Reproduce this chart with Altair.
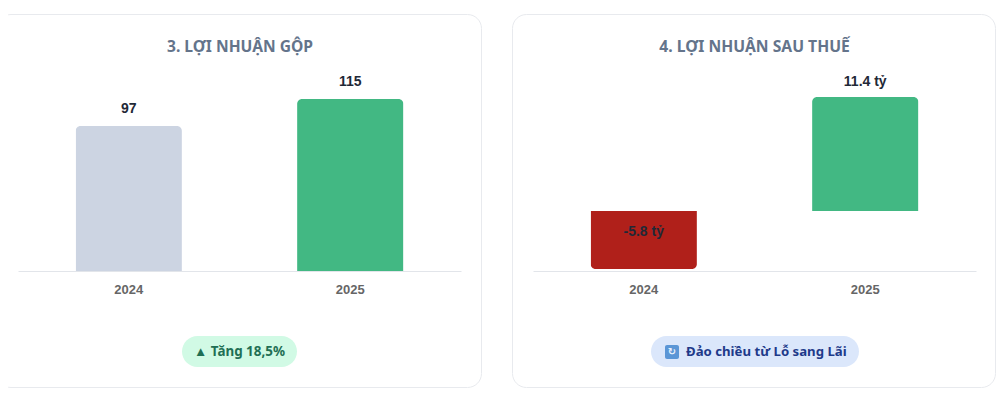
import altair as alt
import pandas as pd

years = ["2024", "2025"]
gross_values = [97, 115]
gross_labels = ["97", "115"]
net_values = [-5.8, 11.4]
net_labels = ["-5.8 tỷ", "11.4 tỷ"]
gross_colors = ["#ccd4e2", "#42b883"]
net_colors = ["#b0201a", "#42b883"]
titles = ["3. LỢI NHUẬN GỘP", "4. LỢI NHUẬN SAU THUẾ"]
badges = ["▲ Tăng 18,5%", "Đảo chiều từ Lỗ sang Lãi"]

SANS = "Noto Sans"
ARIAL = "Liberation Sans"
one = pd.DataFrame({"k": [0]})


def card(x1, x2):
    return alt.Chart(one).mark_rect(
        fill="white", stroke="#e8eaee", strokeWidth=1, cornerRadius=14, clip=True
    ).encode(x=alt.value(x1), x2=alt.value(x2), y=alt.value(6.5), y2=alt.value(379.5))


def note(text, x, y, size, color, font=SANS, align="center", weight="bold"):
    return alt.Chart(pd.DataFrame({"t": [text]})).mark_text(
        font=font, fontSize=size, fontWeight=weight, color=color, align=align, baseline="middle"
    ).encode(x=alt.value(x), y=alt.value(y), text="t:N")


def pill(x1, x2, fill):
    return alt.Chart(one).mark_rect(fill=fill, cornerRadius=15.5).encode(
        x=alt.value(x1), x2=alt.value(x2), y=alt.value(328), y2=alt.value(359)
    )


def bars(values, labels, colors, domain, xrange):
    df = pd.DataFrame({"year": years, "v": values, "label": labels, "color": colors})
    x = alt.X(
        "year:N",
        sort=years,
        scale=alt.Scale(range=xrange, paddingInner=0.52, paddingOuter=0.26),
        axis=alt.Axis(
            title=None, labelAngle=0, offset=-117, tickSize=0, labelPadding=12, zindex=1,
            domainColor="#e2e5ea", labelColor="#666666", labelFont=ARIAL,
            labelFontSize=13, labelFontWeight="bold", grid=False,
        ),
    )
    y = alt.Y("v:Q", scale=alt.Scale(domain=domain, range=[263, 63], nice=False), axis=None)
    return df, x, y


# left panel
gdf, gx, gy = bars(gross_values, gross_labels, gross_colors, [0, 133.8], [10, 453])
gbar = alt.Chart(gdf).mark_bar(cornerRadiusTopLeft=5, cornerRadiusTopRight=5).encode(
    x=gx, y=gy, color=alt.Color("color:N", scale=None)
)
glab = alt.Chart(gdf).mark_text(
    font=ARIAL, fontSize=14, fontWeight="bold", color="#1f2937", dy=-17, baseline="middle"
).encode(x=gx, y=gy, text="label:N")
left = alt.layer(
    card(-11, 473.5),
    gbar,
    glab,
    note(titles[0], 232, 39, 15.6, "#64748b"),
    pill(174, 289, "#d1fae5"),
    note(badges[0], 231.5, 344, 13.4, "#1f6f54"),
).properties(width=474, height=380)

# right panel
ndf, nx, ny = bars(net_values, net_labels, net_colors, [-6, 14], [21, 464])
nbar_pos = alt.Chart(ndf[ndf.v > 0]).mark_bar(cornerRadiusTopLeft=5, cornerRadiusTopRight=5).encode(
    x=nx, y=ny, color=alt.Color("color:N", scale=None)
)
nbar_neg = alt.Chart(ndf[ndf.v < 0]).mark_bar(cornerRadiusBottomLeft=5, cornerRadiusBottomRight=5).encode(
    x=nx, y=ny, color=alt.Color("color:N", scale=None)
)
npos = alt.Chart(ndf[ndf.v > 0]).mark_text(
    font=ARIAL, fontSize=14, fontWeight="bold", color="#1f2937", dy=-15, baseline="middle"
).encode(x=nx, y=ny, text="label:N")
nneg = alt.Chart(ndf[ndf.v < 0].assign(anchor=0)).mark_text(
    font=ARIAL, fontSize=14, fontWeight="bold", color="#1f2937", dy=21, baseline="middle"
).encode(x=nx, y=alt.Y("anchor:Q", scale=alt.Scale(domain=[-6, 14], range=[263, 63], nice=False), axis=None), text="label:N")
icon = alt.Chart(one).mark_rect(fill="#5b96d6", cornerRadius=2).encode(
    x=alt.value(153), x2=alt.value(167), y=alt.value(337), y2=alt.value(351)
)
right = alt.layer(
    card(0.5, 483.5),
    nbar_pos,
    nbar_neg,
    npos,
    nneg,
    note(titles[1], 242.5, 39, 15.7, "#64748b"),
    pill(139, 347, "#dbe7fb"),
    icon,
    note("↻", 160, 344, 10, "#e8f0fb", font="DejaVu Sans"),
    note(badges[1], 174, 344, 13.2, "#1e3a8a", align="left"),
).properties(width=484, height=380)

chart = (
    alt.hconcat(left, right, spacing=30, bounds="flush", padding=0, background="white")
    .resolve_scale(x="independent", y="independent", color="independent")
    .configure_view(strokeOpacity=0, stroke="transparent", strokeWidth=0)
)
chart.save("out.html", embed_options={"renderer": "svg", "actions": False})
